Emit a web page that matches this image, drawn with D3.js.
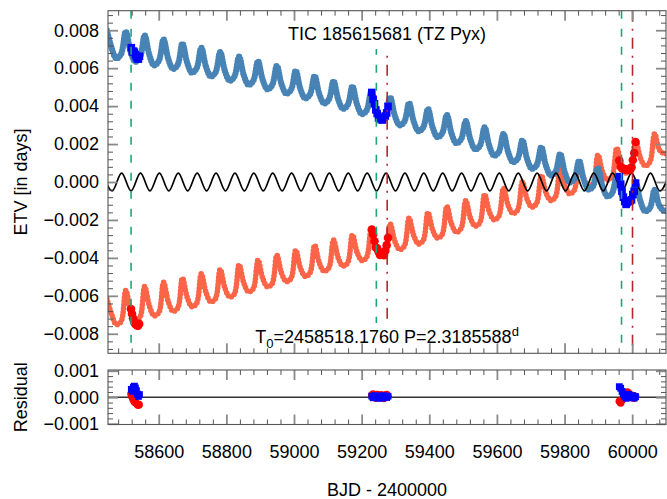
<!DOCTYPE html>
<html>
<head>
<meta charset="utf-8">
<script src="https://cdn.jsdelivr.net/npm/d3@7"></script>
<style>
  body { margin: 0; background: #fff; }
  svg { display: block; }
</style>
</head>
<body>
<svg id="chart" width="667" height="499"></svg>
<script>
// ---- data -------------------------------------------------------------
// Model ETV curves, sampled every quarter of the ~55.85 d outer cycle
const modelStart = 58446.65;
const modelStep = 13.9625;
const primaryModel = [
  0.00800, 0.00707, 0.00651, 0.00674, 0.00793, 0.00689, 0.00634, 0.00656,
  0.00773, 0.00669, 0.00615, 0.00638, 0.00752, 0.00649, 0.00596, 0.00618,
  0.00730, 0.00629, 0.00576, 0.00599, 0.00708, 0.00607, 0.00556, 0.00577,
  0.00685, 0.00585, 0.00534, 0.00555, 0.00661, 0.00562, 0.00512, 0.00533,
  0.00637, 0.00539, 0.00489, 0.00510, 0.00612, 0.00514, 0.00466, 0.00486,
  0.00586, 0.00489, 0.00441, 0.00461, 0.00559, 0.00462, 0.00414, 0.00434,
  0.00532, 0.00435, 0.00386, 0.00406, 0.00504, 0.00407, 0.00358, 0.00377,
  0.00475, 0.00378, 0.00329, 0.00348, 0.00446, 0.00348, 0.00299, 0.00318,
  0.00416, 0.00318, 0.00268, 0.00288, 0.00385, 0.00287, 0.00237, 0.00256,
  0.00353, 0.00255, 0.00205, 0.00224, 0.00321, 0.00223, 0.00172, 0.00191,
  0.00288, 0.00189, 0.00139, 0.00158, 0.00254, 0.00156, 0.00105, 0.00123,
  0.00220, 0.00121, 0.00070, 0.00088, 0.00184, 0.00085, 0.00035, 0.00053,
  0.00148, 0.00049, -0.00002, 0.00016, 0.00112, 0.00013, -0.00039, -0.00021,
  0.00075, -0.00025, -0.00076, -0.00059, 0.00036, -0.00063, -0.00115, -0.00098,
  -0.00002, -0.00102, -0.00154, -0.00137, -0.00042, -0.00125, -0.00152, -0.00150,
  -0.00082
];
const secondaryModel = [
  -0.00615, -0.00697, -0.00751, -0.00736, -0.00572, -0.00675, -0.00728, -0.00713,
  -0.00551, -0.00653, -0.00705, -0.00689, -0.00529, -0.00631, -0.00681, -0.00665,
  -0.00507, -0.00607, -0.00657, -0.00640, -0.00484, -0.00583, -0.00631, -0.00615,
  -0.00461, -0.00559, -0.00606, -0.00590, -0.00436, -0.00533, -0.00579, -0.00563,
  -0.00412, -0.00507, -0.00552, -0.00536, -0.00386, -0.00481, -0.00524, -0.00508,
  -0.00360, -0.00454, -0.00497, -0.00480, -0.00334, -0.00427, -0.00470, -0.00453,
  -0.00306, -0.00400, -0.00443, -0.00426, -0.00279, -0.00371, -0.00414, -0.00397,
  -0.00250, -0.00343, -0.00385, -0.00368, -0.00221, -0.00313, -0.00356, -0.00338,
  -0.00191, -0.00283, -0.00326, -0.00308, -0.00161, -0.00253, -0.00295, -0.00277,
  -0.00129, -0.00222, -0.00264, -0.00246, -0.00098, -0.00190, -0.00232, -0.00214,
  -0.00065, -0.00157, -0.00199, -0.00181, -0.00032, -0.00124, -0.00166, -0.00147,
  0.00001, -0.00090, -0.00132, -0.00113, 0.00035, -0.00056, -0.00097, -0.00078,
  0.00070, -0.00021, -0.00062, -0.00043, 0.00106, 0.00015, -0.00026, -0.00007,
  0.00142, 0.00051, 0.00010, 0.00030, 0.00179, 0.00088, 0.00047, 0.00067,
  0.00216, 0.00126, 0.00085, 0.00105, 0.00254, 0.00170, 0.00150, 0.00160,
  0.00293
];

// Light-travel-time term: successive extrema, half a cycle apart
const ltteStart = 58434.4;
const ltteStep = 27.925;
const ltteModel = [
  0.00047, -0.00047, 0.00047, -0.00047, 0.00047, -0.00047, 0.00047, -0.00047,
  0.00047, -0.00047, 0.00047, -0.00047, 0.00047, -0.00047, 0.00047, -0.00047,
  0.00047, -0.00047, 0.00047, -0.00047, 0.00047, -0.00047, 0.00047, -0.00047,
  0.00047, -0.00047, 0.00047, -0.00047, 0.00047, -0.00047, 0.00047, -0.00047,
  0.00047, -0.00047, 0.00047, -0.00047, 0.00047, -0.00047, 0.00047, -0.00047,
  0.00047, -0.00047, 0.00047, -0.00047, 0.00047, -0.00047, 0.00047, -0.00047,
  0.00047, -0.00047, 0.00047, -0.00047, 0.00047, -0.00047, 0.00047, -0.00047,
  0.00047, -0.00047, 0.00047, -0.00047, 0.00047
];

// Measured eclipse timings (BJD - 2400000), ETVs and residuals, in days
const primaryTime = [
  58519, 58522, 58525, 58528, 58531, 58534, 58537, 58540, 58543,
  59230, 59234, 59238, 59242, 59246, 59250, 59254, 59258, 59262, 59266, 59270, 59274, 59278,
  59962, 59966, 59970, 59974, 59978, 59982, 59986, 59990, 59994, 59998, 60002, 60006, 60010
];
const primaryEtv = [
  0.00708, 0.00686, 0.00690, 0.00684, 0.00671, 0.00659, 0.00650, 0.00648, 0.00663,
  0.00472, 0.00436, 0.00412, 0.00380, 0.00361, 0.00338, 0.00337, 0.00329, 0.00327, 0.00342, 0.00348, 0.00364, 0.00399,
  0.00028, -0.00011, -0.00049, -0.00080, -0.00103, -0.00118, -0.00108, -0.00101, -0.00099, -0.00094, -0.00066, -0.00048, -0.00006
];
const primaryResidual = [
  0.00030, 0.00022, 0.00038, 0.00042, 0.00035, 0.00025, 0.00012, 0.00003, 0.00010,
  0.00004, -0.00002, 0.00006, 0.00000, 0.00003, -0.00004, 0.00005, 0.00001, -0.00003, 0.00006, 0.00002, -0.00001, 0.00004,
  0.00040, 0.00034, 0.00022, 0.00012, 0.00003, -0.00004, 0.00008, 0.00011, 0.00005, -0.00002, 0.00006, -0.00003, 0.00002
];
const secondaryTime = [
  58518, 58521, 58524, 58527, 58530, 58533, 58536, 58539, 58542,
  59230, 59234, 59238, 59242, 59246, 59250, 59254, 59258, 59262, 59266, 59270, 59274, 59278,
  59962, 59966, 59970, 59974, 59978, 59982, 59986, 59990, 59994, 59998, 60002, 60006, 60010
];
const secondaryEtv = [
  -0.00670, -0.00695, -0.00718, -0.00735, -0.00747, -0.00752, -0.00756, -0.00757, -0.00748,
  -0.00250, -0.00276, -0.00312, -0.00345, -0.00350, -0.00367, -0.00384, -0.00377, -0.00383, -0.00386, -0.00363, -0.00333, -0.00294,
  0.00113, 0.00080, 0.00072, 0.00071, 0.00066, 0.00065, 0.00065, 0.00063, 0.00065, 0.00078, 0.00116, 0.00153, 0.00211
];
const secondaryResidual = [
  0.00012, 0.00002, -0.00008, -0.00015, -0.00020, -0.00022, -0.00026, -0.00030, -0.00028,
  0.00008, 0.00012, 0.00005, -0.00004, 0.00010, 0.00006, -0.00002, 0.00009, 0.00003, -0.00005, 0.00007, 0.00010, 0.00004,
  -0.00015, -0.00022, -0.00010, 0.00005, 0.00012, 0.00018, 0.00020, 0.00015, 0.00008, 0.00002, 0.00006, -0.00004, 0.00003
];

// Marker epochs
const dashedEpochs = [58518.2, 59243.5, 59968.5];
const dashDotEpochs = [59275.5, 60001.0];

// Axis ticks
const xTicks = [58600, 58800, 59000, 59200, 59400, 59600, 59800, 60000];
const yTicks = [-0.008, -0.006, -0.004, -0.002, 0, 0.002, 0.004, 0.006, 0.008];
const resTicks = [-0.001, 0, 0.001];

const titleText = "TIC 185615681 (TZ Pyx)";

// ---- layout -----------------------------------------------------------
const FONT = '"Liberation Sans", Arial, Helvetica, sans-serif';
const left = 108, right = 666;
const mainTop = 10.7, mainBottom = 353.3;
const resTop = 370, resBottom = 424.5;

const x = d3.scaleLinear().domain([58450, 60100]).range([left, right]);
const y = d3.scaleLinear().domain([-0.00903, 0.00903]).range([mainBottom, mainTop]);
const yr = d3.scaleLinear().domain([-0.00103, 0.00103]).range([resBottom, resTop]);

const svg = d3.select("#chart");
const defs = svg.append("defs");
defs.append("clipPath").attr("id", "clipMain").append("rect")
  .attr("x", left).attr("y", mainTop).attr("width", right - left).attr("height", mainBottom - mainTop);
defs.append("clipPath").attr("id", "clipRes").append("rect")
  .attr("x", left).attr("y", resTop).attr("width", right - left).attr("height", resBottom - resTop);

const main = svg.append("g").attr("clip-path", "url(#clipMain)");
const res = svg.append("g").attr("clip-path", "url(#clipRes)");

// ---- model curves -----------------------------------------------------
const gridPts = vals => vals.map((v, i) => ({ t: modelStart + i * modelStep, v }));
const modelLine = d3.line().x(d => x(d.t)).y(d => y(d.v)).curve(d3.curveCatmullRom.alpha(0.5));

// a thin line with round beads strung along it
function beadedCurve(pts, color, lineW, beadW, gap) {
  main.append("path").attr("d", modelLine(pts)).attr("fill", "none")
    .attr("stroke", color).attr("stroke-width", lineW);
  main.append("path").attr("d", modelLine(pts)).attr("fill", "none")
    .attr("stroke", color).attr("stroke-width", beadW)
    .attr("stroke-linecap", "round").attr("stroke-dasharray", `0 ${gap}`);
}
beadedCurve(gridPts(secondaryModel), "#fb6447", 2.4, 5.6, 3.6);
beadedCurve(gridPts(primaryModel), "#4883b6", 3.2, 6.2, 2.9);

// light-travel-time sinusoid
const ltteLine = d3.line().x(d => x(d.t)).y(d => y(d.v)).curve(d3.curveMonotoneX);
main.append("path")
  .attr("d", ltteLine(ltteModel.map((v, i) => ({ t: ltteStart + i * ltteStep, v }))))
  .attr("fill", "none").attr("stroke", "#000").attr("stroke-width", 1.7);

// ---- measured timings ---------------------------------------------------
main.selectAll("circle.sec").data(secondaryTime).join("circle")
  .attr("cx", t => x(t)).attr("cy", (t, i) => y(secondaryEtv[i])).attr("r", 4.3)
  .attr("fill", "#ff0000");
main.selectAll("rect.pri").data(primaryTime).join("rect")
  .attr("x", t => x(t) - 3.8).attr("y", (t, i) => y(primaryEtv[i]) - 3.8)
  .attr("width", 7.6).attr("height", 7.6).attr("fill", "#0000ff");

// ---- epoch markers ------------------------------------------------------
main.selectAll("line.dash").data(dashedEpochs).join("line")
  .attr("x1", t => x(t)).attr("x2", t => x(t)).attr("y1", mainTop).attr("y2", mainBottom)
  .attr("stroke", "#1fa574").attr("stroke-width", 1.6).attr("stroke-dasharray", "8 10");
main.selectAll("line.dashdot").data(dashDotEpochs).join("line")
  .attr("x1", t => x(t)).attr("x2", t => x(t)).attr("y1", mainTop).attr("y2", mainBottom)
  .attr("stroke", "#b3262a").attr("stroke-width", 1.6).attr("stroke-dasharray", "11 7 2 7");

// ---- labels inside the main panel (on white boxes) -----------------------
const midX = (left + right) / 2;
const title = svg.append("text").attr("x", midX).attr("y", 39.5).attr("text-anchor", "middle")
  .attr("font-family", FONT).attr("font-size", 18).text(titleText);
const tb = title.node().getBBox();
svg.insert("rect", () => title.node())
  .attr("x", tb.x - 4).attr("y", mainTop + 0.5).attr("width", tb.width + 8)
  .attr("height", tb.y + tb.height + 5 - mainTop).attr("fill", "#fff");

const ephem = svg.append("text").attr("x", midX).attr("y", 343).attr("text-anchor", "middle")
  .attr("font-family", FONT).attr("font-size", 18);
ephem.append("tspan").text("T");
ephem.append("tspan").attr("dy", 5).attr("font-size", 13).text("0");
ephem.append("tspan").attr("dy", -5).text("=2458518.1760 P=2.3185588");
ephem.append("tspan").attr("dy", -7).attr("font-size", 13).text("d");
const eb = ephem.node().getBBox();
svg.insert("rect", () => ephem.node())
  .attr("x", eb.x - 4).attr("y", eb.y - 1).attr("width", eb.width + 8)
  .attr("height", mainBottom - 0.5 - (eb.y - 1)).attr("fill", "#fff");

// ---- residual panel -----------------------------------------------------
res.append("line").attr("x1", left).attr("x2", right).attr("y1", yr(0)).attr("y2", yr(0))
  .attr("stroke", "#333").attr("stroke-width", 1.4);
res.selectAll("circle.sec").data(secondaryTime).join("circle")
  .attr("cx", t => x(t)).attr("cy", (t, i) => yr(secondaryResidual[i])).attr("r", 3.8)
  .attr("fill", "#ff0000");
res.selectAll("rect.pri").data(primaryTime).join("rect")
  .attr("x", t => x(t) - 3.4).attr("y", (t, i) => yr(primaryResidual[i]) - 3.4)
  .attr("width", 6.8).attr("height", 6.8).attr("fill", "#0000ff");

// ---- axes ---------------------------------------------------------------
const xMinor = d3.range(58480, 60100, 40).filter(v => !xTicks.includes(v));
const yMinor = d3.range(-88, 89, 4).filter(v => v % 20 !== 0).map(v => v / 10000);
const rMinor = d3.range(-10, 11, 2).filter(v => v % 10 !== 0).map(v => v / 10000);
const fmt = d3.format(".3f");

function addAxis(gen, transform, values, size, major, withLabels, pad) {
  gen.tickValues(values).tickSize(size).tickPadding(pad || 0)
    .tickFormat(withLabels ? fmt : () => "");
  if (gen.scale() === x && withLabels) gen.tickFormat(d3.format("d"));
  const g = svg.append("g").attr("transform", transform).call(gen);
  g.attr("font-family", FONT).attr("font-size", 18);
  g.select(".domain").remove();
  g.selectAll(".tick line").attr("stroke", major ? "#8a8a8a" : "#555")
    .attr("stroke-width", major ? 1.8 : 1);
  g.selectAll(".tick text").attr("fill", "#000");
  return g;
}
function panelAxes(ys, top, bottom, yMaj, yMin, xLabels) {
  addAxis(d3.axisBottom(x), `translate(0,${bottom})`, xMinor, -5, false);
  addAxis(d3.axisBottom(x), `translate(0,${bottom})`, xTicks, -10, true, xLabels, 20.5);
  addAxis(d3.axisTop(x), `translate(0,${top})`, xMinor, -5, false);
  addAxis(d3.axisTop(x), `translate(0,${top})`, xTicks, -10, true);
  addAxis(d3.axisLeft(ys), `translate(${left},0)`, yMin, -5, false);
  addAxis(d3.axisLeft(ys), `translate(${left},0)`, yMaj, -10, true, true, 9);
  addAxis(d3.axisRight(ys), `translate(${right},0)`, yMin, -5, false);
  addAxis(d3.axisRight(ys), `translate(${right},0)`, yMaj, -10, true);
  svg.append("rect").attr("x", left).attr("y", top).attr("width", right - left)
    .attr("height", bottom - top).attr("fill", "none").attr("stroke", "#555").attr("stroke-width", 1.1);
}
panelAxes(y, mainTop, mainBottom, yTicks, yMinor, false);
panelAxes(yr, resTop, resBottom, resTicks, rMinor, true);

// ---- axis titles --------------------------------------------------------
svg.append("text").attr("transform", `translate(27,${(mainTop + mainBottom) / 2}) rotate(-90)`)
  .attr("text-anchor", "middle").attr("font-family", FONT).attr("font-size", 18).text("ETV [in days]");
svg.append("text").attr("transform", `translate(27,${(resTop + resBottom) / 2}) rotate(-90)`)
  .attr("text-anchor", "middle").attr("font-family", FONT).attr("font-size", 18).text("Residual");
svg.append("text").attr("x", midX).attr("y", 496).attr("text-anchor", "middle")
  .attr("font-family", FONT).attr("font-size", 18).text("BJD - 2400000");
</script>
</body>
</html>
